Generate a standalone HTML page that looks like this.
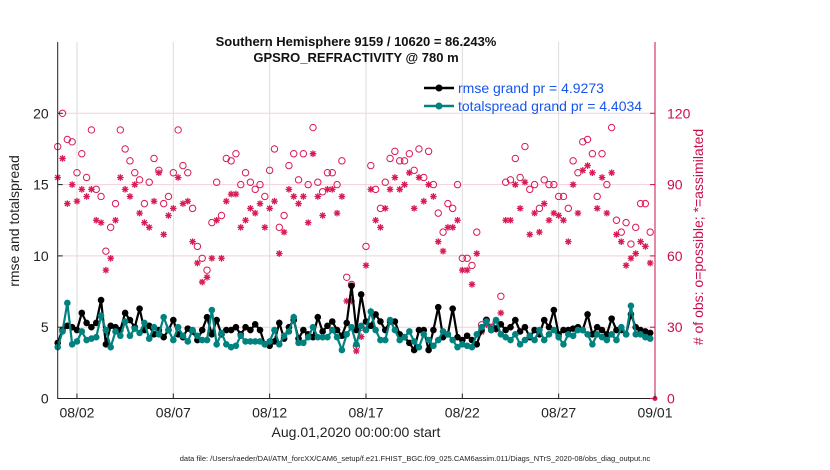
<!DOCTYPE html>
<html><head><meta charset="utf-8"><style>
body{margin:0;background:#fff;}
svg{display:block;font-family:"Liberation Sans",sans-serif;}
</style></head><body>
<svg id="chart" width="830" height="470" xmlns="http://www.w3.org/2000/svg"></svg>
<script>
const possible=[106,120,109,108,95,103,93,113,88,85,62,72,82,113,105,100,95,92,82,91,101,96,82,85,95,113,98,95,80,64,59,54,74,91,77,101,100,103,90,95,91,88,90,85,96,105,72,77,98,103,92,103,90,114,91,87,95,95,90,100,51,48,22,30,64,98,88,80,91,101,104,100,100,103,96,105,93,104,90,78,70,82,80,90,59,59,56,70,31,33,30,32,43,91,92,101,93,106,88,90,80,92,90,90,85,85,80,100,95,108,109,103,85,103,90,114,75,70,74,65,72,82,82,70,0];
const assimilated=[93,101,82,90,83,88,85,88,75,74,54,59,75,93,88,85,90,78,74,72,83,95,69,77,80,93,82,83,66,57,49,51,59,75,59,83,86,86,72,75,80,78,82,72,80,83,61,70,88,85,82,85,74,103,85,77,88,88,78,85,41,41,20,26,56,88,75,72,80,88,93,88,90,95,80,93,83,90,85,66,62,72,72,75,54,54,48,61,28,31,30,29,36,75,75,90,80,91,69,78,70,82,75,78,77,75,66,90,78,96,98,95,80,93,78,95,69,66,56,59,61,66,64,57,0];
const rmse=[3.9,4.8,5.1,5.0,4.8,6.0,5.3,5.0,5.3,6.9,3.8,5.1,5.0,4.8,6.0,5.5,5.0,6.3,4.8,5.1,4.5,4.8,4.3,4.8,5.5,4.5,4.3,4.9,4.7,4.1,4.8,5.7,4.5,5.5,4.5,4.8,4.8,5.0,4.5,5.0,4.8,5.2,4.8,3.8,3.7,4.0,5.3,4.2,5.0,5.5,4.2,4.8,4.5,4.3,5.7,4.7,5.1,5.4,4.8,4.4,5.3,7.9,4.8,7.3,5.4,5.1,5.9,5.4,4.8,5.4,5.4,4.5,4.3,3.9,3.4,4.8,4.8,3.4,4.8,6.4,4.3,4.5,6.3,4.3,4.1,4.4,4.1,3.8,4.8,5.5,4.8,4.9,5.2,4.8,5.0,5.5,4.7,5.0,4.3,4.8,4.5,5.5,5.0,6.2,4.5,4.8,4.8,4.9,5.0,4.8,5.9,4.5,5.0,4.8,4.5,5.6,4.8,4.8,4.5,5.9,5.0,4.8,4.7,4.6];
const spread=[3.6,4.7,6.7,3.8,4.0,4.7,4.1,4.2,4.3,5.8,4.8,3.6,4.7,4.4,5.4,4.4,4.9,4.6,5.3,4.2,5.0,4.5,5.7,4.8,4.1,5.0,4.4,4.0,4.8,4.4,4.1,4.1,6.2,3.8,4.6,3.8,3.6,3.7,4.4,4.0,4.0,4.0,4.0,3.8,4.0,4.8,3.8,4.4,4.7,5.7,3.9,3.9,4.3,5.0,4.3,4.3,4.3,4.8,4.3,3.4,4.5,5.0,3.8,5.1,4.8,6.1,4.8,4.1,4.1,5.5,4.8,4.1,4.3,4.7,4.0,3.6,4.5,4.1,3.7,4.1,4.7,4.5,4.1,3.6,3.8,3.7,3.6,4.5,5.0,5.4,4.8,5.5,4.5,4.3,4.1,4.5,3.8,4.1,4.4,4.1,4.8,4.1,4.5,4.8,4.3,3.8,4.5,4.4,4.8,4.8,4.5,3.8,4.5,4.3,4.1,4.5,4.1,5.0,4.5,6.5,4.5,4.5,4.3,4.2];
const xTickLabels=["08/02","08/07","08/12","08/17","08/22","08/27","09/01"];
const xTickDays=[1,6,11,16,21,26,31];
const leftTicks=[0,5,10,15,20];
const rightTicks=[0,30,60,90,120];
const stepDays=0.25;

const NS="http://www.w3.org/2000/svg";
const svg=document.getElementById('chart');
const L=57.7,R=655,T=42,B=398.5;
const xs=d=>L+(d/31)*(R-L);
const yl=v=>B-(v/25)*(B-T);
const yr=v=>B-(v/150)*(B-T);
function el(tag,attrs,parent){const e=document.createElementNS(NS,tag);for(const k in attrs)e.setAttribute(k,attrs[k]);(parent||svg).appendChild(e);return e;}
function txt(s,attrs,parent){const e=el('text',attrs,parent);e.textContent=s;return e;}

const grid=el('g',{});


xTickDays.forEach(d=>{const l=el('line',{x1:xs(d),x2:xs(d),y1:T,y2:B,stroke:'#dcdcdc','stroke-width':1},grid);

});
rightTicks.forEach(v=>{if(v===0)return;const l=el('line',{x1:L,x2:R,y1:yr(v),y2:yr(v),stroke:'#f3cfdc','stroke-width':1},grid);

});

const pg=el('g',{});


possible.forEach((v,i)=>{if(i===possible.length-1)return;const c=el('circle',{cx:xs(i*stepDays),cy:yr(v),r:3.2,fill:'none',stroke:'#d81b55','stroke-width':1},pg);

});
const ag=el('g',{});


assimilated.forEach((v,i)=>{if(i===assimilated.length-1)return;
  const x=xs(i*stepDays),y=yr(v),s=3.3;
  const d=`M${x-s} ${y}H${x+s}M${x} ${y-s}V${y+s}M${x-2.4} ${y-2.4}L${x+2.4} ${y+2.4}M${x-2.4} ${y+2.4}L${x+2.4} ${y-2.4}`;
  const p=el('path',{d:d,stroke:'#d81b55','stroke-width':1.3,fill:'none'},ag);
  
  });
const last=el('circle',{cx:xs((possible.length-1)*stepDays),cy:yr(possible[possible.length-1]),r:2.5,fill:'#d81b55'});



function series(arr,color,name){
  const g=el('g',{});
  
  
  const pts=arr.map((v,i)=>xs(i*stepDays)+','+yl(v)).join(' ');
  el('polyline',{points:pts,fill:'none',stroke:color,'stroke-width':2.2},g);
  arr.forEach((v,i)=>{const c=el('circle',{cx:xs(i*stepDays),cy:yl(v),r:3.3,fill:color},g);
  
  });
}
series(rmse,'#000','rmse-series');
series(spread,'#00827f','totalspread-series');

const ax=el('g',{});


el('line',{x1:L,x2:L,y1:T,y2:B+0.5,stroke:'#222','stroke-width':1},ax);
el('line',{x1:L,x2:R,y1:B,y2:B,stroke:'#222','stroke-width':1},ax);
el('line',{x1:R,x2:R,y1:T,y2:B,stroke:'#c8104a','stroke-width':1},ax);
leftTicks.forEach(v=>{el('line',{x1:L,x2:L+5,y1:yl(v),y2:yl(v),stroke:'#222'},ax);
const t=txt(String(v),{x:L-9,y:yl(v)+5,'text-anchor':'end','font-size':14,fill:'#222'},ax);

});
rightTicks.forEach(v=>{el('line',{x1:R-5,x2:R,y1:yr(v),y2:yr(v),stroke:'#c8104a'},ax);
const t=txt(String(v),{x:R+12,y:yr(v)+5,'font-size':14,fill:'#c8104a'},ax);

});
xTickDays.forEach((d,i)=>{el('line',{x1:xs(d),x2:xs(d),y1:B,y2:B-5,stroke:'#222'},ax);
const t=txt(xTickLabels[i],{x:xs(d),y:B+19,'text-anchor':'middle','font-size':14,fill:'#222'},ax);

});

const lg=el('g',{});


[['rmse grand pr = 4.9273','#000',88],['totalspread grand pr = 4.4034','#00827f',106]].forEach(([s,c,y])=>{
  el('line',{x1:424,x2:454,y1:y,y2:y,stroke:c,'stroke-width':2.5},lg);
  el('circle',{cx:439,cy:y,r:3.5,fill:c},lg);
  const t=txt(s,{x:458,y:y+5,'font-size':14,fill:'#1555ee'},lg);
  
  
});
</script>
<svg width="830" height="470" style="position:absolute;left:0;top:0">
<text x="356" y="46" text-anchor="middle" font-family="Liberation Sans" font-weight="bold" font-size="13" fill="#111">Southern Hemisphere 9159 / 10620 = 86.243%</text>
<text x="356" y="62" text-anchor="middle" font-family="Liberation Sans" font-weight="bold" font-size="13" fill="#111">GPSRO_REFRACTIVITY @ 780 m</text>
<text transform="translate(19,221) rotate(-90)" text-anchor="middle" font-family="Liberation Sans" font-size="14" fill="#222">rmse and totalspread</text>
<text transform="translate(703,237) rotate(-90)" text-anchor="middle" font-family="Liberation Sans" font-size="14" fill="#c8104a"># of obs: o=possible; *=assimilated</text>
<text x="356" y="437" text-anchor="middle" font-family="Liberation Sans" font-size="14" fill="#222">Aug.01,2020 00:00:00 start</text>
<text x="415" y="461" text-anchor="middle" font-family="Liberation Sans" font-size="7.5" fill="#222">data file: /Users/raeder/DAI/ATM_forcXX/CAM6_setup/f.e21.FHIST_BGC.f09_025.CAM6assim.011/Diags_NTrS_2020-08/obs_diag_output.nc</text>
</svg>
</body></html>
